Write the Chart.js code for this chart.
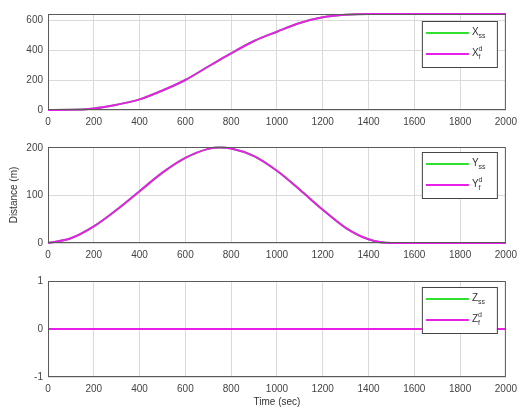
<!DOCTYPE html>
<html>
<head>
<meta charset="utf-8">
<script src="https://cdn.jsdelivr.net/npm/chart.js@4"></script>
<style>
  html, body { margin: 0; padding: 0; background: #fff; }
  #wrap { position: relative; width: 523px; height: 412px; overflow: hidden; }
  canvas { position: absolute; left: 0; }
</style>
</head>
<body>
<div id="wrap">
  <canvas id="panelX" width="523" height="130" style="top:0px"></canvas>
  <canvas id="panelY" width="523" height="140" style="top:130px"></canvas>
  <canvas id="panelZ" width="523" height="142" style="top:270px"></canvas>
</div>
<script>
// time axis (sec)
const timeSec = [0, 100, 200, 300, 400, 500, 600, 700, 750, 800, 900, 1000, 1100, 1200, 1300, 1400, 1500, 1600, 1700, 1800, 1900, 2000];

// desired and steady-state positions (m)
const xDesired = [0, 1, 10, 35, 71, 130, 200, 290, 334, 378, 460, 522, 580, 618, 635, 640, 640, 640, 640, 640, 640, 640];
const xSteady  = [0, 1, 10, 35, 71, 130, 200, 290, 334, 378, 460, 522, 580, 618, 635, 640, 640, 640, 640, 640, 640, 640];
const yDesired = [0, 10, 35, 70, 109, 148, 179, 198, 201, 199, 183, 152, 112, 70, 32, 8, 0, 0, 0, 0, 0, 0];
const ySteady  = [0, 10, 35, 70, 109, 148, 179, 198, 201, 199, 183, 152, 112, 70, 32, 8, 0, 0, 0, 0, 0, 0];
const zDesired = [0, 0, 0, 0, 0, 0, 0, 0, 0, 0, 0, 0, 0, 0, 0, 0, 0, 0, 0, 0, 0, 0];
const zSteady  = [0, 0, 0, 0, 0, 0, 0, 0, 0, 0, 0, 0, 0, 0, 0, 0, 0, 0, 0, 0, 0, 0];

// tick labels
const timeTicks = [0, 200, 400, 600, 800, 1000, 1200, 1400, 1600, 1800, 2000];
const xTicks = [0, 200, 400, 600];
const yTicks = [0, 100, 200];
const zTicks = [-1, 0, 1];

const GREEN = '#2fe02f';
const MAGENTA = '#e81fe8';
const FONT = "'Liberation Sans', Arial, sans-serif";

function toPoints(vals) {
    return vals.map((v, i) => ({ x: timeSec[i], y: v }));
}

// box around plot + MATLAB style legend with sub/superscripts
const boxLegend = {
    id: 'boxLegend',
    afterDraw(chart, args, opts) {
        const ctx = chart.ctx;
        const a = chart.chartArea;
        ctx.save();
        ctx.strokeStyle = '#5a5a5a';
        ctx.lineWidth = 1;
        ctx.strokeRect(a.left + 0.5, a.top + 0.5, a.right - a.left - 1, a.bottom - a.top - 1);

        const w = 75, h = 46;
        const bx = a.right - 9 - w, by = a.top + opts.dy;
        ctx.fillStyle = '#fff';
        ctx.fillRect(bx, by, w, h);
        ctx.strokeStyle = '#444';
        ctx.strokeRect(bx + 0.5, by + 0.5, w, h);

        const rows = [
            { color: GREEN, sub: 'ss', sup: '' },
            { color: MAGENTA, sub: 'f', sup: 'd' }
        ];
        rows.forEach((r, i) => {
            const ly = by + 12 + i * 21;
            ctx.strokeStyle = r.color;
            ctx.lineWidth = 2;
            ctx.beginPath();
            ctx.moveTo(bx + 4, ly);
            ctx.lineTo(bx + 47, ly);
            ctx.stroke();
            ctx.fillStyle = '#333';
            ctx.textBaseline = 'middle';
            ctx.font = '10px ' + FONT;
            ctx.fillText(opts.letter, bx + 50, ly - 1);
            const lw = ctx.measureText(opts.letter).width;
            ctx.font = '7px ' + FONT;
            ctx.fillText(r.sub, bx + 50 + lw, ly + 3);
            if (r.sup) ctx.fillText(r.sup, bx + 50 + lw, ly - 5);
        });
        ctx.restore();
    }
};

function makePanel(id, cfg) {
    const ctx = document.getElementById(id).getContext('2d');
    new Chart(ctx, {
        type: 'line',
        data: {
            datasets: [
                {
                    // green drawn underneath
                    data: toPoints(cfg.steady),
                    borderColor: GREEN,
                    borderWidth: 2,
                    pointRadius: 0,
                    cubicInterpolationMode: 'monotone',
                    clip: false,
                    order: 2
                },
                {
                    data: toPoints(cfg.desired),
                    borderColor: MAGENTA,
                    borderWidth: 2,
                    pointRadius: 0,
                    cubicInterpolationMode: 'monotone',
                    clip: false,
                    order: 1
                }
            ]
        },
        options: {
            responsive: false,
            animation: false,
            layout: { padding: cfg.padding },
            plugins: {
                legend: { display: false },
                tooltip: { enabled: false },
                boxLegend: { letter: cfg.letter, dy: cfg.legendDy }
            },
            scales: {
                x: {
                    type: 'linear',
                    min: 0,
                    max: 2000,
                    afterBuildTicks: s => { s.ticks = timeTicks.map(v => ({ value: v })); },
                    afterFit: s => { s.height = cfg.xHeight; },
                    grid: { color: '#dadada', drawTicks: false },
                    border: { display: false },
                    ticks: { padding: 6, color: '#444', font: { family: FONT, size: 10 }, maxRotation: 0, autoSkip: false, callback: v => String(v) },
                    title: cfg.xTitle ? { display: true, text: cfg.xTitle, color: '#333', font: { family: FONT, size: 10 }, padding: { top: 2 } } : { display: false }
                },
                y: {
                    min: cfg.min,
                    max: cfg.max,
                    afterBuildTicks: s => { s.ticks = cfg.ticks.map(v => ({ value: v })); },
                    afterFit: s => { s.width = 48; },
                    grid: { color: '#dadada', drawTicks: false },
                    border: { display: false },
                    ticks: { padding: 5, color: '#444', font: { family: FONT, size: 10 }, callback: v => String(v) },
                    title: cfg.yTitle ? { display: true, text: cfg.yTitle, color: '#333', font: { family: FONT, size: 10 }, padding: { top: 8, bottom: 0 } } : { display: false }
                }
            }
        },
        plugins: [boxLegend]
    });
}

makePanel('panelX', {
    steady: xSteady, desired: xDesired, ticks: xTicks, min: 0, max: 640,
    letter: 'X', legendDy: 7, xHeight: 20,
    padding: { top: 14, right: 15, bottom: 0, left: 0 }
});

makePanel('panelY', {
    steady: ySteady, desired: yDesired, ticks: yTicks, min: 0, max: 202,
    letter: 'Y', legendDy: 5, xHeight: 20, yTitle: 'Distance (m)',
    padding: { top: 17, right: 15, bottom: 7, left: 0 }
});

makePanel('panelZ', {
    steady: zSteady, desired: zDesired, ticks: zTicks, min: -1, max: 1,
    letter: 'Z', legendDy: 6, xHeight: 35, xTitle: 'Time (sec)',
    padding: { top: 11, right: 15, bottom: 0, left: 0 }
});
</script>
</body>
</html>
